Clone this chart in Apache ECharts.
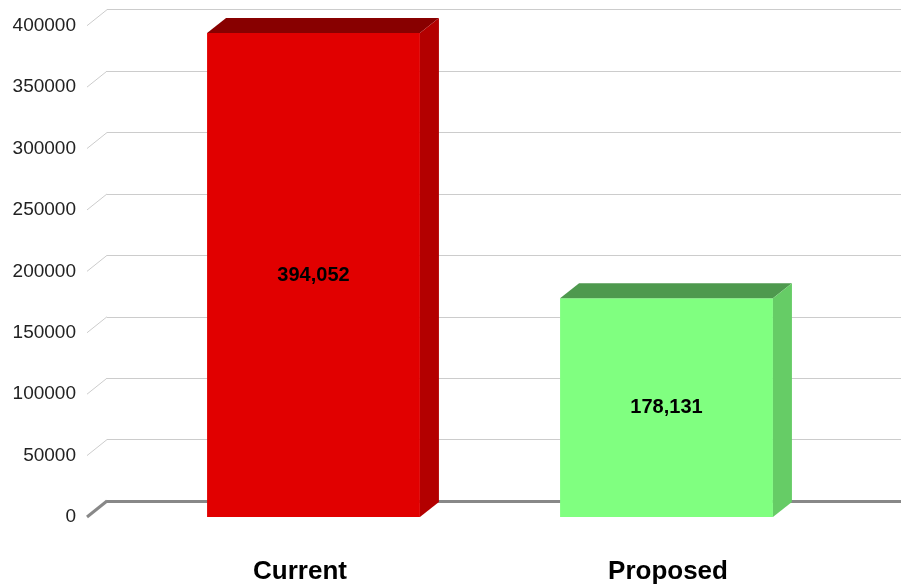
<!DOCTYPE html>
<html>
<head>
<meta charset="utf-8">
<script src="https://cdn.jsdelivr.net/npm/echarts@6/dist/echarts.min.js"></script>
<style>html,body{margin:0;padding:0;background:#fff}#c{width:901px;height:587px}</style>
</head>
<body>
<div id="c"></div>
<script>
var categories = ['Current', 'Proposed'];
var values = [394052, 178131];
var tickValues = [0, 50000, 100000, 150000, 200000, 250000, 300000, 350000, 400000];

var faceColors = [
  { front: '#e10000', top: '#880000', side: '#b30000' },
  { front: '#80ff80', top: '#4e994e', side: '#66cc66' }
];
var DX = 19, DY = 15;
var FONT = '"Liberation Sans", Arial, sans-serif';

var chart = echarts.init(document.getElementById('c'));
var yMin = 0, yMax = 400000, yInt = 50000;

chart.setOption({
  animation: false,
  grid: [
    { left: 87, right: 0, top: 25.7, bottom: 70 },
    { left: 137, width: 706, top: 25.7, bottom: 70 },
    { left: 107, right: 0, top: 9.7, bottom: 86 },
    { left: 116, width: 736, top: 25.7, bottom: 70 }
  ],
  xAxis: [
    { gridIndex: 0, type: 'value', min: 0, max: 1, show: false },
    { gridIndex: 1, type: 'category', data: categories, show: false },
    { gridIndex: 2, type: 'value', min: 0, max: 1,
      axisLine: { show: true, lineStyle: { color: '#888', width: 3 } },
      axisTick: { show: false }, axisLabel: { show: false }, splitLine: { show: false } },
    { gridIndex: 3, type: 'category', data: categories,
      axisLine: { show: false }, axisTick: { show: false }, splitLine: { show: false },
      axisLabel: { margin: 55, verticalAlign: 'middle', fontFamily: FONT, fontSize: 26, fontWeight: 'bold', color: '#000' } }
  ],
  yAxis: [
    { gridIndex: 0, type: 'value', min: yMin, max: yMax, interval: yInt,
      axisLine: { show: false }, axisTick: { show: false }, splitLine: { show: false },
      axisLabel: { margin: 11, fontFamily: FONT, fontSize: 19, color: '#222',
        formatter: function (v) { return String(v); } } },
    { gridIndex: 1, type: 'value', min: yMin, max: yMax, interval: yInt, show: false },
    { gridIndex: 2, type: 'value', min: yMin, max: yMax, interval: yInt,
      axisLine: { show: false }, axisTick: { show: false }, axisLabel: { show: false },
      splitLine: { show: true, lineStyle: { color: '#cccccc', width: 1 } } },
    { gridIndex: 3, type: 'value', min: yMin, max: yMax, interval: yInt, show: false }
  ],
  series: [
    {
      type: 'custom', xAxisIndex: 0, yAxisIndex: 0, z: 1,
      data: tickValues.map(function (v) { return [0, v]; }),
      renderItem: function (params, api) {
        var v = api.value(1);
        var p = api.coord([0, v]);
        return {
          type: 'line',
          shape: { x1: p[0], y1: p[1], x2: p[0] + 20, y2: p[1] - 16 },
          style: { stroke: v === 0 ? '#888' : '#cccccc', lineWidth: v === 0 ? 3 : 1 }
        };
      }
    },
    {
      type: 'custom', xAxisIndex: 1, yAxisIndex: 1, z: 5,
      data: values.map(function (v, i) { return [i, v]; }),
      renderItem: function (params, api) {
        var i = api.value(0), v = api.value(1);
        var top = api.coord([i, v]);
        var base = api.coord([i, 0]);
        var w = api.size([1, 0])[0] * 0.603;
        var x1 = top[0] - w / 2, x2 = top[0] + w / 2;
        var c = faceColors[i];
        return {
          type: 'group',
          children: [
            { type: 'rect', shape: { x: x1, y: top[1], width: w, height: base[1] - top[1] }, style: { fill: c.front } },
            { type: 'polygon', shape: { points: [[x1, top[1]], [x1 + DX, top[1] - DY], [x2 + DX, top[1] - DY], [x2, top[1]]] }, style: { fill: c.top } },
            { type: 'polygon', shape: { points: [[x2, top[1]], [x2 + DX, top[1] - DY], [x2 + DX, base[1] - DY], [x2, base[1]]] }, style: { fill: c.side } },
            { type: 'text', x: top[0], y: (top[1] + base[1]) / 2,
              style: { text: v.toLocaleString('en-US'), fill: '#000', fontFamily: FONT, fontSize: 20, fontWeight: 'bold', align: 'center', verticalAlign: 'middle' } }
          ]
        };
      }
    }
  ]
});
</script>
</body>
</html>
